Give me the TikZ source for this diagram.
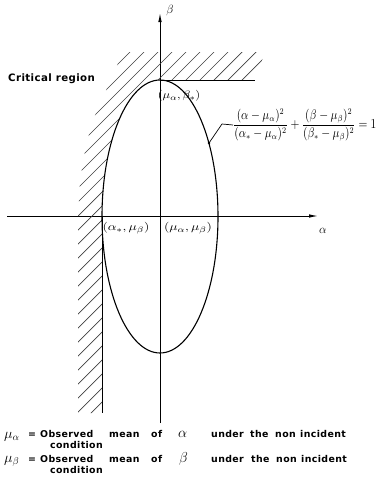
\documentclass[tikz,border=0pt]{standalone}
\usepackage{fontspec}
\usepackage{amsmath}
\usetikzlibrary{arrows.meta}
\newfontfamily\labfont[LetterSpace=4]{DejaVu Sans Bold}
\begin{document}
\begin{tikzpicture}[x=1pt,y=-1pt,
  axis/.style={line width=0.9pt,-{Latex[length=9pt,width=3.5pt]}},
  bound/.style={line width=1pt},
  hatchline/.style={line width=0.7pt,black!75},
  curve/.style={line width=1.1pt},
  txt/.style={font=\labfont\fontsize{9.4}{11}\selectfont,inner sep=0pt,anchor=base west},
  mlab/.style={inner sep=0pt,font=\fontsize{11}{13}\selectfont},
]
\useasboundingbox (0,0) rectangle (379,483);
% axes
\coordinate (xs) at (7,216);
\coordinate (xe) at (318,216);
\coordinate (ys) at (160,423);
\coordinate (ye) at (160,13);
\draw[axis] (xs) -- (xe);
\draw[axis] (ys) -- (ye);
\node[mlab,font=\fontsize{13}{15}\selectfont] (alab) at (323,231) {$\alpha$};
\node[mlab,font=\fontsize{12}{14}\selectfont] (blab) at (170,10) {$\beta$};
% hatching
\begin{scope}
\clip (102,216.5) arc[start angle=180,end angle=270,x radius=58,y radius=136.5]
  -- (255,80) -- (265,52) -- (123,52) -- (93,120) -- (86,145) -- (80,180)
  -- (78,216) -- (78,413) -- (102,413) -- cycle;
\foreach \c in {168,182,...,532}
  \draw[hatchline] (\c-40,40) -- (\c-440,440);
\end{scope}
% boundary of critical region
\coordinate (t0) at (160,80);
\coordinate (t1) at (255,80);
\coordinate (v0) at (102,216.5);
\coordinate (v1) at (102,413);
\draw[bound] (t0) -- (t1);
\draw[bound] (v0) -- (v1);
% ellipse
\draw[curve] (160,216.5) ellipse[x radius=58,y radius=136.5];
% labels
\node[font=\labfont\fontsize{10.2}{12}\selectfont,inner sep=0pt,anchor=west] (crit) at (8,79) {Critical region};
\node[mlab] (top) at (179,96) {\scalebox{1.15}[1]{$(\mu_\alpha,\beta_*)$}};
\node[mlab] (lft) at (126,228) {\scalebox{1.25}[1]{$(\alpha_*,\mu_\beta)$}};
\node[mlab] (ctr) at (188,228) {\scalebox{1.25}[1]{$(\mu_\alpha,\mu_\beta)$}};
% equation
\node[inner sep=0pt,anchor=west,font=\fontsize{10.5}{13}\selectfont] (eq) at (233,125)
  {\scalebox{1.04}[1.25]{$\dfrac{(\alpha-\mu_\alpha)^2}{(\alpha_*-\mu_\alpha)^2}+\dfrac{(\beta-\mu_\beta)^2}{(\beta_*-\mu_\beta)^2}=1$}};
\coordinate (lp) at (209,143);
\coordinate (lk) at (222,124);
\fill (lp) circle (1.3);
\draw[line width=0.7pt] (lp) -- (lk) -- (eq.west);
% legend
\node[inner sep=0pt,anchor=base west,font=\fontsize{14}{16}\selectfont] (m1) at (4,438) {$\mu_\alpha$};
\node[txt] (e1) at (28,437) {=};
\node[txt] (w11) at (40,437) {Observed};
\node[txt] (w12) at (109,437) {mean};
\node[txt] (w13) at (151,437) {of};
\node[inner sep=0pt,anchor=base west,font=\fontsize{14}{16}\selectfont] (g1) at (178,437) {$\alpha$};
\node[txt] (w14) at (211,437) {under};
\node[txt] (w15) at (250,437) {the};
\node[txt] (w16) at (275,437) {non};
\node[txt] (w17) at (300,437) {incident};
\node[txt] (c1) at (50,448) {condition};
\node[inner sep=0pt,anchor=base west,font=\fontsize{14}{16}\selectfont] (m2) at (4,462) {$\mu_\beta$};
\node[txt] (e2) at (28,462) {=};
\node[txt] (w21) at (40,462) {Observed};
\node[txt] (w22) at (109,462) {mean};
\node[txt] (w23) at (151,462) {of};
\node[inner sep=0pt,anchor=base west,font=\fontsize{14}{16}\selectfont] (g2) at (179,462) {$\beta$};
\node[txt] (w24) at (211,462) {under};
\node[txt] (w25) at (251,462) {the};
\node[txt] (w26) at (276,462) {non};
\node[txt] (w27) at (301,462) {incident};
\node[txt] (c2) at (50,473) {condition};
\end{tikzpicture}
\end{document}
